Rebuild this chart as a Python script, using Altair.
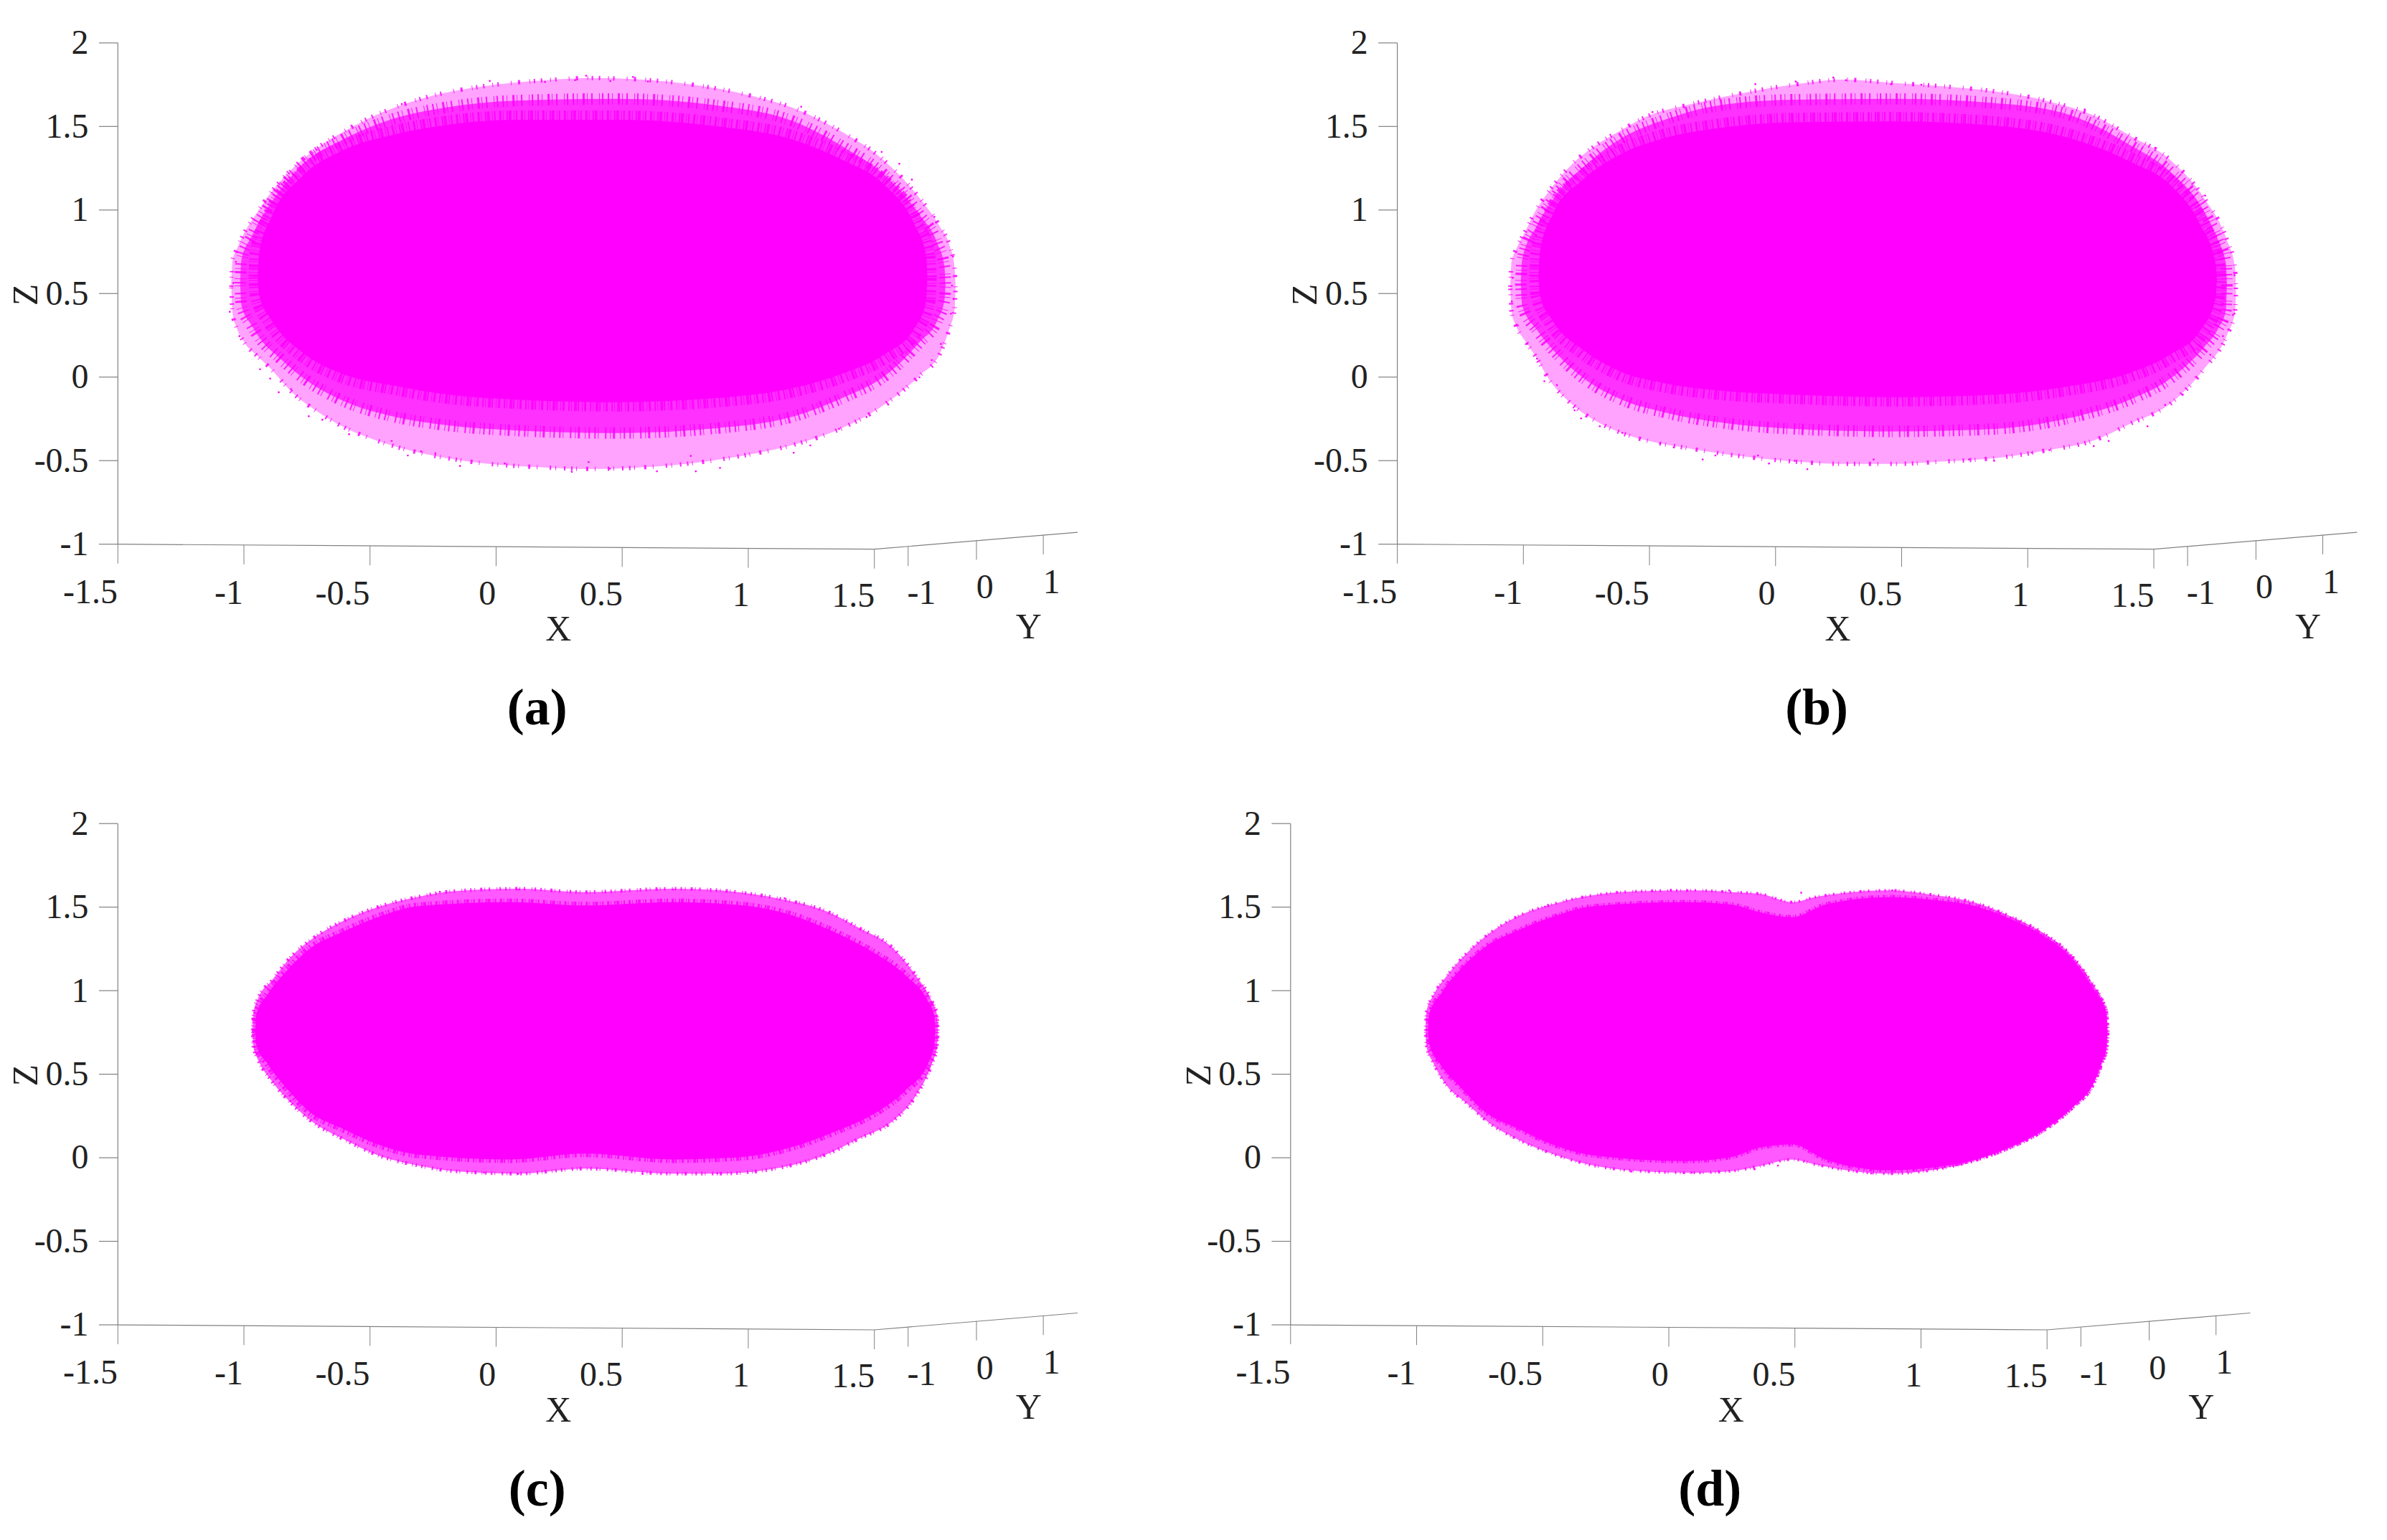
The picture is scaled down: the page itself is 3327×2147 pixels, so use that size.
import altair as alt
import pandas as pd

# ---------- axis values shared by all four panels (projected 3-D box) ----------
Z_TICKS = [2, 1.5, 1, 0.5, 0, -0.5, -1]
Z_LABELS = ["2", "1.5", "1", "0.5", "0", "-0.5", "-1"]
X_TICKS = [-1.5, -1, -0.5, 0, 0.5, 1, 1.5]
X_AXIS_Z = [-1.0, -1.005, -1.010, -1.015, -1.020, -1.025, -1.030]
X_LABEL_TEXT = ["-1.5", "-1", "-0.5", "0", "0.5", "1", "1.5"]
X_LABEL_X = [-1.609, -1.060, -0.609, -0.035, 0.417, 0.971, 1.416]
X_LABEL_Z = [-1.294, -1.297, -1.300, -1.303, -1.306, -1.310, -1.314]
Y_AXIS_X = [1.5, 2.306]
Y_AXIS_Z = [-1.030, -0.929]
Y_TICK_X = [1.634, 1.905, 2.170]
Y_TICK_Z = [-1.0146, -0.977, -0.945]
Y_LABEL_TEXT = ["-1", "0", "1"]
Y_LABEL_X = [1.687, 1.938, 2.203]
Y_LABEL_Z = [-1.299, -1.264, -1.232]
TITLE_TEXT = ["X", "Y"]
TITLE_X = [0.247, 2.112]
TITLE_Z = [-1.513, -1.50]

# ---------- panel (a) ----------
A_OUTER_X = [-1.050, -1.045, -1.030, -1.000, -0.950, -0.900, -0.810, -0.710, -0.610, -0.510, -0.390, -0.250, -0.055, 0.180, 0.380, 0.580, 0.780, 0.980, 1.180, 1.380, 1.520, 1.680, 1.760, 1.800, 1.818, 1.822]
A_OUTER_UP = [0.540, 0.700, 0.760, 0.860, 0.980, 1.090, 1.245, 1.370, 1.465, 1.545, 1.620, 1.685, 1.740, 1.775, 1.790, 1.780, 1.750, 1.695, 1.610, 1.460, 1.320, 1.070, 0.900, 0.780, 0.660, 0.530]
A_OUTER_LOW = [0.540, 0.380, 0.300, 0.210, 0.130, 0.060, -0.090, -0.205, -0.295, -0.360, -0.420, -0.470, -0.515, -0.540, -0.550, -0.540, -0.515, -0.470, -0.405, -0.300, -0.185, 0.010, 0.140, 0.300, 0.400, 0.530]
A_MID_X = [-1.015, -1.010, -0.970, -0.920, -0.870, -0.770, -0.610, -0.410, -0.215, 0.085, 0.480, 0.880, 1.180, 1.380, 1.540, 1.680, 1.750, 1.778, 1.782]
A_MID_UP = [0.560, 0.700, 0.840, 0.980, 1.090, 1.270, 1.420, 1.545, 1.610, 1.655, 1.665, 1.625, 1.530, 1.375, 1.210, 0.970, 0.800, 0.660, 0.550]
A_MID_LOW = [0.560, 0.430, 0.310, 0.200, 0.130, 0.000, -0.140, -0.235, -0.285, -0.320, -0.335, -0.305, -0.235, -0.120, 0.005, 0.210, 0.340, 0.460, 0.550]
A_CORE_X = [-0.945, -0.940, -0.890, -0.770, -0.610, -0.410, -0.215, 0.085, 0.480, 0.880, 1.180, 1.380, 1.540, 1.660, 1.705, 1.710]
A_CORE_UP = [0.600, 0.740, 0.960, 1.200, 1.355, 1.450, 1.505, 1.540, 1.540, 1.500, 1.420, 1.295, 1.150, 0.910, 0.730, 0.600]
A_CORE_LOW = [0.600, 0.490, 0.340, 0.150, 0.020, -0.050, -0.100, -0.135, -0.150, -0.125, -0.065, 0.025, 0.135, 0.295, 0.450, 0.600]
A_DOT_X = [0.357, 0.543, -0.025, 0.194, 0.313, 0.453, 0.602, -0.374, 1.210, 1.529, 1.599, 1.649, 1.738, 1.812, 1.808, 1.814, 1.804, -1.056, -1.042, -1.032, -1.018, -0.936, -0.896, -0.862, -0.813, -0.743, -0.689, -0.583, -0.414, -0.350, -0.298, -0.241, -0.143, 0.034, 0.300, 0.367, 0.451, 0.638, 0.792, 0.888, 0.772, 1.180, 1.246, 1.360, 1.469, 1.555, 1.679, 1.728, 1.764]
A_DOT_Z = [1.804, 1.796, 1.772, 1.766, 1.777, 1.772, 1.769, 1.634, 1.618, 1.348, 1.277, 1.182, 0.959, 0.721, 0.547, 0.467, 0.380, 0.391, 0.563, 0.690, 0.245, 0.047, -0.009, -0.091, -0.072, -0.234, -0.255, -0.342, -0.382, -0.469, -0.445, -0.456, -0.532, -0.517, -0.567, -0.509, -0.548, -0.564, -0.564, -0.543, -0.472, -0.453, -0.409, -0.310, -0.239, -0.164, -0.001, 0.102, 0.198]

# ---------- panel (b) ----------
B_OUTER_X = [-1.052, -1.047, -1.030, -0.990, -0.950, -0.900, -0.810, -0.710, -0.610, -0.510, -0.330, -0.130, 0.070, 0.270, 0.470, 0.670, 0.870, 1.070, 1.270, 1.405, 1.565, 1.700, 1.790, 1.822, 1.826]
B_OUTER_UP = [0.540, 0.690, 0.760, 0.880, 1.000, 1.110, 1.270, 1.390, 1.480, 1.560, 1.635, 1.700, 1.750, 1.780, 1.760, 1.740, 1.710, 1.655, 1.560, 1.445, 1.300, 1.070, 0.820, 0.660, 0.510]
B_OUTER_LOW = [0.540, 0.390, 0.310, 0.210, 0.120, -0.010, -0.160, -0.265, -0.335, -0.380, -0.430, -0.475, -0.505, -0.520, -0.520, -0.505, -0.485, -0.440, -0.375, -0.280, -0.160, 0.050, 0.250, 0.390, 0.510]
B_MID_X = [-1.010, -1.005, -0.945, -0.865, -0.745, -0.610, -0.430, -0.230, 0.070, 0.470, 0.870, 1.165, 1.405, 1.565, 1.700, 1.755, 1.786, 1.790]
B_MID_UP = [0.550, 0.700, 0.910, 1.100, 1.280, 1.430, 1.545, 1.625, 1.660, 1.665, 1.640, 1.570, 1.390, 1.230, 0.990, 0.820, 0.680, 0.550]
B_MID_LOW = [0.550, 0.430, 0.280, 0.135, -0.025, -0.135, -0.215, -0.270, -0.310, -0.325, -0.310, -0.245, -0.135, -0.010, 0.180, 0.290, 0.400, 0.550]
B_CORE_X = [-0.940, -0.935, -0.885, -0.765, -0.625, -0.430, -0.230, 0.070, 0.470, 0.870, 1.165, 1.405, 1.565, 1.685, 1.745, 1.750]
B_CORE_UP = [0.600, 0.740, 0.970, 1.180, 1.325, 1.435, 1.490, 1.525, 1.530, 1.505, 1.430, 1.290, 1.150, 0.910, 0.680, 0.580]
B_CORE_LOW = [0.600, 0.490, 0.340, 0.165, 0.040, -0.040, -0.080, -0.105, -0.120, -0.105, -0.055, 0.025, 0.135, 0.280, 0.470, 0.580]
B_DOT_X = [0.229, 0.279, -0.080, 0.080, 0.458, 0.578, -0.488, 1.226, 1.505, 1.704, 1.820, 1.820, -1.046, -1.042, -1.022, -0.986, -0.946, -0.917, -0.867, -0.797, -0.771, -0.697, -0.608, -0.458, -0.404, -0.289, -0.239, -0.070, -0.026, 0.076, 0.126, 0.389, 0.767, 0.867, 1.017, 1.086, 1.262, 1.321, 1.475, 1.545, 1.615, 1.724, 1.774, 1.814]
B_DOT_Z = [1.793, 1.777, 1.753, 1.769, 1.753, 1.750, 1.586, 1.602, 1.372, 1.086, 0.610, 0.380, 0.452, 0.594, 0.309, 0.198, 0.110, -0.025, -0.048, -0.199, -0.247, -0.294, -0.334, -0.397, -0.421, -0.493, -0.469, -0.469, -0.517, -0.501, -0.551, -0.493, -0.493, -0.501, -0.453, -0.437, -0.413, -0.382, -0.294, -0.167, -0.104, 0.134, 0.245, 0.372]

# ---------- panel (c) ----------
C_OUTER_X = [-0.965, -0.962, -0.945, -0.890, -0.815, -0.720, -0.610, -0.460, -0.315, -0.170, 0.090, 0.350, 0.700, 0.885, 1.125, 1.310, 1.440, 1.570, 1.660, 1.730, 1.748, 1.752]
C_OUTER_UP = [0.765, 0.870, 0.950, 1.060, 1.200, 1.320, 1.415, 1.505, 1.560, 1.595, 1.610, 1.590, 1.610, 1.600, 1.550, 1.475, 1.375, 1.260, 1.100, 0.930, 0.860, 0.760]
C_OUTER_LOW = [0.765, 0.660, 0.590, 0.460, 0.330, 0.205, 0.115, 0.010, -0.045, -0.080, -0.095, -0.065, -0.095, -0.095, -0.060, 0.020, 0.115, 0.215, 0.360, 0.570, 0.660, 0.760]
C_CORE_X = [-0.955, -0.952, -0.905, -0.830, -0.740, -0.610, -0.460, -0.315, 0.055, 0.350, 0.700, 0.980, 1.165, 1.350, 1.495, 1.625, 1.715, 1.738, 1.742]
C_CORE_UP = [0.760, 0.850, 0.980, 1.120, 1.250, 1.350, 1.445, 1.505, 1.530, 1.510, 1.530, 1.510, 1.455, 1.345, 1.230, 1.090, 0.930, 0.850, 0.760]
C_CORE_LOW = [0.760, 0.680, 0.560, 0.415, 0.275, 0.175, 0.075, 0.020, -0.010, 0.025, -0.010, 0.005, 0.060, 0.160, 0.260, 0.405, 0.570, 0.670, 0.760]
C_DOT_X = [0.091, 0.701, -0.223, 1.144, 0.087, 0.581, 0.877, -0.048, -0.815, 1.680]
C_DOT_Z = [1.606, 1.606, 1.592, 1.553, -0.097, -0.097, -0.093, -0.090, 0.339, 0.474]

# ---------- panel (d) ----------
D_OUTER_X = [-0.965, -0.962, -0.935, -0.880, -0.805, -0.710, -0.600, -0.455, -0.305, -0.120, 0.100, 0.250, 0.360, 0.490, 0.580, 0.730, 0.875, 1.040, 1.230, 1.355, 1.485, 1.595, 1.690, 1.718, 1.737, 1.741]
D_OUTER_UP = [0.760, 0.870, 0.970, 1.090, 1.220, 1.345, 1.445, 1.520, 1.570, 1.595, 1.600, 1.590, 1.580, 1.530, 1.560, 1.590, 1.600, 1.575, 1.520, 1.445, 1.345, 1.215, 1.020, 0.950, 0.860, 0.760]
D_OUTER_LOW = [0.760, 0.670, 0.570, 0.430, 0.330, 0.205, 0.110, 0.020, -0.045, -0.080, -0.090, -0.080, -0.050, -0.010, -0.040, -0.080, -0.095, -0.075, -0.010, 0.060, 0.160, 0.290, 0.460, 0.560, 0.650, 0.760]
D_CORE_X = [-0.955, -0.952, -0.900, -0.825, -0.730, -0.600, -0.455, -0.305, 0.065, 0.250, 0.360, 0.490, 0.620, 0.875, 1.040, 1.230, 1.355, 1.485, 1.595, 1.690, 1.716, 1.735, 1.739]
D_CORE_UP = [0.760, 0.850, 0.990, 1.130, 1.260, 1.360, 1.445, 1.505, 1.530, 1.515, 1.470, 1.440, 1.515, 1.560, 1.545, 1.500, 1.430, 1.330, 1.200, 1.000, 0.940, 0.860, 0.760]
D_CORE_LOW = [0.760, 0.690, 0.545, 0.420, 0.275, 0.175, 0.075, 0.015, -0.020, 0.005, 0.060, 0.080, -0.010, -0.075, -0.060, -0.005, 0.065, 0.165, 0.295, 0.465, 0.570, 0.660, 0.760]
D_DOT_X = [0.886, 0.008, 0.239, 0.525, -0.491, 0.091, -0.149, 0.340, 0.802, 0.433]
D_DOT_Z = [1.600, 1.603, 1.600, 1.586, 1.503, -0.090, -0.083, -0.069, -0.094, -0.047]

# stipple styles for the rim of the cloud: uneven dash patterns
SPARSE = [2, 11, 1, 6, 2, 17, 1, 9, 3, 13, 1, 5, 2, 8]
MEDIUM = [2, 4, 1, 7, 3, 3, 1, 5, 2, 9, 1, 3, 2, 6]
DENSE = [3, 2, 1, 4, 2, 1, 4, 3, 1, 2, 2, 5]

# level = x, upper, lower, fill opacity, stipple stroke width, dash pattern
PANELS = {
    "(a)": dict(levels=[(A_OUTER_X, A_OUTER_UP, A_OUTER_LOW, 0.36, 6, SPARSE), (A_MID_X, A_MID_UP, A_MID_LOW, 0.7, 16, MEDIUM), (A_CORE_X, A_CORE_UP, A_CORE_LOW, 1.0, 26, DENSE)], dots=(A_DOT_X, A_DOT_Z)),
    "(b)": dict(levels=[(B_OUTER_X, B_OUTER_UP, B_OUTER_LOW, 0.36, 6, SPARSE), (B_MID_X, B_MID_UP, B_MID_LOW, 0.7, 16, MEDIUM), (B_CORE_X, B_CORE_UP, B_CORE_LOW, 1.0, 26, DENSE)], dots=(B_DOT_X, B_DOT_Z)),
    "(c)": dict(levels=[(C_OUTER_X, C_OUTER_UP, C_OUTER_LOW, 0.65, 5, MEDIUM), (C_CORE_X, C_CORE_UP, C_CORE_LOW, 1.0, 10, DENSE)], dots=(C_DOT_X, C_DOT_Z)),
    "(d)": dict(levels=[(D_OUTER_X, D_OUTER_UP, D_OUTER_LOW, 0.65, 4, MEDIUM), (D_CORE_X, D_CORE_UP, D_CORE_LOW, 1.0, 6, DENSE)], dots=(D_DOT_X, D_DOT_Z)),
}

MAGENTA = "#ff00ff"
INK = "#222222"
LINE = "#808080"
SERIF = "Liberation Serif"
TICK_DOWN = 0.116   # tick length in z units
TICK_LEFT = 0.075   # tick length in x units

x_scale = alt.Scale(domain=[-1.9446, 2.4020], nice=False, zero=False)
z_scale = alt.Scale(domain=[-2.2422, 2.2156], nice=False, zero=False)
X = lambda f: alt.X(f, type="quantitative", scale=x_scale, axis=None)
Z = lambda f: alt.Y(f, type="quantitative", scale=z_scale, axis=None)


def segments(x1, z1, x2, z2, width=1.2):
    df = pd.DataFrame({"x": x1, "z": z1, "x2": x2, "z2": z2})
    return alt.Chart(df).mark_rule(color=LINE, strokeWidth=width).encode(
        x=X("x"), y=Z("z"), x2="x2:Q", y2="z2:Q")


def texts(labels, xs, zs, size, align="center", angle=None, bold=False):
    df = pd.DataFrame({"t": labels, "x": xs, "z": zs})
    kw = dict(font=SERIF, fontSize=size, color=INK, align=align, baseline="middle")
    if angle is not None:
        kw["angle"] = angle
    if bold:
        kw.update(fontWeight="bold", color="#000000")
    return alt.Chart(df).mark_text(**kw).encode(x=X("x"), y=Z("z"), text="t:N")


def panel(name):
    p = PANELS[name]
    layers = []
    for xs, up, low, op, sw, dash in p["levels"]:
        df = pd.DataFrame({"x": xs, "z": up, "z2": low})
        layers.append(alt.Chart(df).mark_area(
            fill=MAGENTA, fillOpacity=op, stroke=MAGENTA, strokeWidth=sw,
            strokeDash=dash, strokeOpacity=0.85, interpolate="monotone").encode(
            x=X("x"), y=Z("z"), y2="z2:Q"))
    dx, dz = p["dots"]
    layers.append(alt.Chart(pd.DataFrame({"x": dx, "z": dz})).mark_point(
        filled=True, color=MAGENTA, opacity=1, size=7, shape="circle").encode(x=X("x"), y=Z("z")))

    # z axis and ticks
    layers.append(segments([-1.5], [2], [-1.5], [-1]))
    layers.append(segments([-1.5 - TICK_LEFT] * len(Z_TICKS), Z_TICKS, [-1.5] * len(Z_TICKS), Z_TICKS))
    # x axis and ticks
    layers.append(segments([-1.5], [-1.0], [1.5], [-1.03]))
    layers.append(segments(X_TICKS, X_AXIS_Z, X_TICKS, [v - TICK_DOWN for v in X_AXIS_Z], 1))
    # y axis and ticks
    layers.append(segments([Y_AXIS_X[0]], [Y_AXIS_Z[0]], [Y_AXIS_X[1]], [Y_AXIS_Z[1]]))
    layers.append(segments(Y_TICK_X, Y_TICK_Z, Y_TICK_X, [v - TICK_DOWN for v in Y_TICK_Z], 1))
    # labels
    layers.append(texts(Z_LABELS, [-1.616] * 7, [v - 0.006 for v in Z_TICKS], 48, align="right"))
    layers.append(texts(X_LABEL_TEXT, X_LABEL_X, X_LABEL_Z, 48))
    layers.append(texts(Y_LABEL_TEXT, Y_LABEL_X, Y_LABEL_Z, 48))
    layers.append(texts(TITLE_TEXT, TITLE_X, TITLE_Z, 50))
    layers.append(texts(["Z"], [-1.862], [0.493], 50, angle=270))
    layers.append(texts([name], [0.163], [-1.986], 72, bold=True))
    return alt.layer(*layers).properties(width=1530, height=1040)


top = alt.hconcat(panel("(a)"), panel("(b)"), spacing=256)
bottom = alt.hconcat(panel("(c)"), panel("(d)"), spacing=107)
chart = alt.vconcat(top, bottom, spacing=50).properties(padding=0, background="white").configure_view(strokeWidth=0)

chart.save("out.html", embed_options={"renderer": "svg", "actions": False})
